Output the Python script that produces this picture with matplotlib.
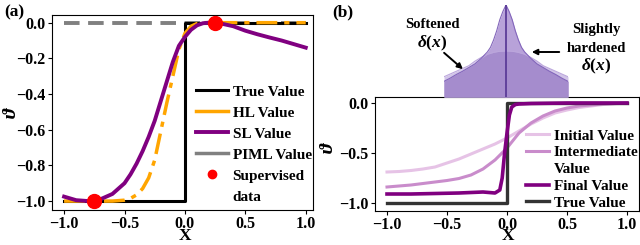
import matplotlib
matplotlib.use("Agg")
import matplotlib.pyplot as plt
import numpy as np
from matplotlib.lines import Line2D
from matplotlib.patches import FancyArrowPatch

plt.rcParams['font.family'] = ['Liberation Serif', 'DejaVu Serif']
plt.rcParams['font.weight'] = 'bold'
plt.rcParams['mathtext.fontset'] = 'custom'
plt.rcParams['mathtext.it'] = 'Liberation Serif:italic:bold'
plt.rcParams['mathtext.rm'] = 'Liberation Serif:bold'
plt.rcParams['mathtext.bf'] = 'Liberation Serif:bold'

# ---------------- data: panel (a) ----------------
true_x = [-1.0, 0.0, 0.0, 1.0]
true_y = [-1.0, -1.0, 0.0, 0.0]

hl_x = [-1.0, -0.9, -0.8, -0.7, -0.6, -0.5, -0.45, -0.4, -0.35, -0.3, -0.25, -0.2,
        -0.15, -0.1, -0.05, 0.0, 0.05, 0.1, 0.15, 0.2, 0.4, 0.6, 0.8, 1.0]
hl_y = [-1.0, -1.0, -1.0, -1.0, -1.0, -0.995, -0.985, -0.965, -0.93, -0.87, -0.77, -0.61,
        -0.45, -0.3, -0.15, -0.06, -0.02, -0.005, 0.0, 0.0, 0.0, 0.0, 0.0, 0.0]

sl_x = [-1.0, -0.9, -0.8, -0.7, -0.6, -0.5, -0.45, -0.4, -0.35, -0.3, -0.25, -0.2,
        -0.15, -0.1, -0.05, 0.0, 0.05, 0.1, 0.15, 0.2, 0.25, 0.3, 0.4, 0.5, 0.6,
        0.7, 0.8, 0.9, 1.0]
sl_y = [-0.975, -0.995, -1.0, -0.99, -0.96, -0.9, -0.85, -0.79, -0.72, -0.64, -0.55, -0.44,
        -0.33, -0.22, -0.13, -0.08, -0.04, -0.015, -0.003, 0.0, 0.0, -0.005, -0.02, -0.045,
        -0.065, -0.083, -0.1, -0.12, -0.14]

piml_x = [-1.0, 1.0]
piml_y = [0.0, 0.0]

sup_x = [-0.75, 0.25]
sup_y = [-1.0, 0.0]

# ---------------- data: panel (b) ----------------
b_true_x = [-1.0, 0.0, 0.0, 1.0]
b_true_y = [-1.0, -1.0, 0.0, 0.0]

b_x = [-1.0, -0.9, -0.8, -0.7, -0.6, -0.5, -0.4, -0.3, -0.2, -0.1, 0.0, 0.1,
       0.2, 0.3, 0.4, 0.5, 0.6, 0.7, 0.8, 0.9, 1.0]
init_y = [-0.69, -0.685, -0.675, -0.66, -0.64, -0.6, -0.56, -0.51, -0.46, -0.41, -0.35, -0.28,
          -0.21, -0.15, -0.1, -0.07, -0.045, -0.03, -0.015, -0.007, 0.0]
inter_y = [-0.84, -0.83, -0.82, -0.805, -0.79, -0.775, -0.755, -0.72, -0.66, -0.57, -0.45, -0.3,
           -0.2, -0.13, -0.08, -0.05, -0.03, -0.02, -0.01, -0.005, 0.0]

final_x = [-1.0, -0.8, -0.6, -0.4, -0.3, -0.2, -0.1, -0.06, -0.04, -0.02, 0.0, 0.02,
           0.04, 0.07, 0.1, 0.2, 0.5, 1.0]
final_y = [-0.91, -0.91, -0.905, -0.9, -0.895, -0.89, -0.9, -0.87, -0.75, -0.5, -0.3, -0.12,
           -0.04, -0.015, -0.01, -0.005, 0.0, 0.0]

delta_x = [-0.5, -0.45, -0.4, -0.35, -0.3, -0.25, -0.2, -0.15, -0.125, -0.1, -0.075, -0.05,
           -0.025, 0.0, 0.025, 0.05, 0.075, 0.1, 0.125, 0.15, 0.2, 0.25, 0.3, 0.35, 0.4,
           0.45, 0.5]
hard_y = [0.17, 0.205, 0.245, 0.28, 0.32, 0.36, 0.42, 0.49, 0.54, 0.62, 0.72, 0.84,
          0.93, 1.0, 0.93, 0.84, 0.72, 0.62, 0.54, 0.49, 0.42, 0.36, 0.32, 0.28, 0.245,
          0.205, 0.17]
soft_y = [0.22, 0.25, 0.28, 0.31, 0.34, 0.39, 0.43, 0.465, 0.475, 0.485, 0.492, 0.497,
          0.499, 0.5, 0.499, 0.497, 0.492, 0.485, 0.475, 0.465, 0.43, 0.39, 0.34, 0.31,
          0.28, 0.25, 0.22]

W, H = 640, 245
fig = plt.figure(figsize=(6.4, 2.45), dpi=100)

def rect(l, t, r, b):
    return [l / W, 1 - b / H, (r - l) / W, (b - t) / H]

def fx(px):
    return px / W

def fy(py):
    return 1 - py / H

tick_fs = 11.5
leg_fs = 11
blank = Line2D([], [], color='none', lw=0)

# ---------- panel (a) ----------
ax = fig.add_axes(rect(52, 15, 313, 210))
ax.plot(piml_x, piml_y, color='#808080', lw=2.8, dashes=(4, 2.2), zorder=2)
ax.plot(true_x, true_y, color='black', lw=2.2, zorder=3)
ax.plot(hl_x, hl_y, color='orange', lw=2.5, linestyle=(0, (6, 2, 1.5, 2)), zorder=4)
ax.plot(sl_x, sl_y, color='purple', lw=2.8, zorder=5)
ax.plot(sup_x, sup_y, 'o', color='red', ms=10, zorder=6)
ax.set_xlim(-1.1, 1.06)
ax.set_ylim(-1.05, 0.043)
ax.set_xticks([-1.0, -0.5, 0.0, 0.5, 1.0])
ax.set_yticks([-1.0, -0.8, -0.6, -0.4, -0.2, 0.0])
ax.tick_params(labelsize=tick_fs, length=3, width=0.8, pad=1.5)
for lab in ax.get_xticklabels() + ax.get_yticklabels():
    lab.set_fontweight('bold')
ax.set_xlabel('X', fontsize=12.5, fontweight='bold')
ax.set_ylabel('ϑ', fontsize=14, fontweight='bold', style='italic')
ax.xaxis.set_label_coords(0.51, -0.092)
ax.yaxis.set_label_coords(-0.123, 0.5)
handles = [Line2D([], [], color='black', lw=2.2),
           Line2D([], [], color='orange', lw=2.5),
           Line2D([], [], color='purple', lw=2.8),
           Line2D([], [], color='#808080', lw=2.5),
           Line2D([], [], marker='o', color='red', ls='none', ms=6),
           blank]
labels = ['True Value', 'HL Value', 'SL Value', 'PIML Value', 'Supervised', 'data']
fig.legend(handles, labels, loc='upper left', bbox_to_anchor=(fx(196), fy(85)),
           frameon=False, handlelength=2.1, labelspacing=0.48, borderaxespad=0.0,
           borderpad=0.0, handletextpad=0.3, prop={'weight': 'bold', 'size': leg_fs})
fig.text(fx(4), fy(12), '(a)', fontsize=12.5, fontweight='bold', va='center')

# ---------- panel (b) ----------
bx = fig.add_axes(rect(375, 97, 639, 211))
bx.plot(b_x, init_y, color='#e6c3e6', lw=2.2)
bx.plot(b_x, inter_y, color='#c98ccb', lw=2.2)
bx.plot(b_true_x, b_true_y, color='#333333', lw=2.4)
bx.plot(final_x, final_y, color='#800080', lw=2.6)
bx.set_xlim(-1.1, 1.1)
bx.set_ylim(-1.08, 0.06)
bx.set_xticks([-1.0, -0.5, 0.0, 0.5, 1.0])
bx.set_yticks([-1.0, -0.5, 0.0])
bx.tick_params(labelsize=tick_fs, length=3, width=0.8, pad=1.5)
for lab in bx.get_xticklabels() + bx.get_yticklabels():
    lab.set_fontweight('bold')
bx.set_xlabel('X', fontsize=12.5, fontweight='bold')
bx.set_ylabel('ϑ', fontsize=14, fontweight='bold', style='italic')
bx.xaxis.set_label_coords(0.505, -0.15)
bx.yaxis.set_label_coords(-0.146, 0.55)
bh = [Line2D([], [], color='#e6c3e6', lw=2.2),
      Line2D([], [], color='#c98ccb', lw=2.2),
      blank,
      Line2D([], [], color='#800080', lw=2.6),
      Line2D([], [], color='#333333', lw=2.4)]
bl = ['Initial Value', 'Intermediate', 'Value', 'Final Value', 'True Value']
fig.legend(bh, bl, loc='upper left', bbox_to_anchor=(fx(526), fy(129)),
           frameon=False, handlelength=1.5, labelspacing=0.2, borderaxespad=0.0,
           borderpad=0.0, handletextpad=0.33, prop={'weight': 'bold', 'size': leg_fs})
fig.text(fx(332), fy(12), '(b)', fontsize=12.5, fontweight='bold', va='center')

# ---------- delta inset ----------
ix = fig.add_axes(rect(444, 5, 568, 97))
lo_y = np.minimum(soft_y, hard_y)
ix.fill_between(delta_x, 0, soft_y, color='#d2c5e8', lw=0)
ix.fill_between(delta_x, 0, hard_y, color='#b8a2d9', lw=0)
ix.fill_between(delta_x, 0, lo_y, color='#a58ccd', lw=0)
ix.plot(delta_x, soft_y, color='#bba6dc', lw=0.8)
ix.plot(delta_x, hard_y, color='#8366bb', lw=0.8)
ix.plot([0, 0], [0, 1.0], color='#5b3c98', lw=1.3)
ix.set_xlim(-0.5, 0.5)
ix.set_ylim(0, 1.0)
ix.axis('off')

fig.text(fx(432), fy(25), 'Softened', fontsize=10.5, fontweight='bold', ha='center', va='center')
fig.text(fx(432), fy(43), r'$\delta(x)$', fontsize=12.5, ha='center', va='center')
fig.text(fx(596), fy(29), 'Slightly', fontsize=10.5, fontweight='bold', ha='center', va='center')
fig.text(fx(596), fy(48), 'hardened', fontsize=10.5, fontweight='bold', ha='center', va='center')
fig.text(fx(596), fy(66), r'$\delta(x)$', fontsize=12.5, ha='center', va='center')
fig.add_artist(FancyArrowPatch(
    (fx(442), fy(51)), (fx(465), fy(71)), transform=fig.transFigure,
    arrowstyle='-|>', mutation_scale=8, color='black', lw=1.4))
fig.add_artist(FancyArrowPatch(
    (fx(562), fy(52)), (fx(529), fy(52)), transform=fig.transFigure,
    arrowstyle='-|>', mutation_scale=8, color='black', lw=1.4))

fig.savefig('out.png', dpi=100)
